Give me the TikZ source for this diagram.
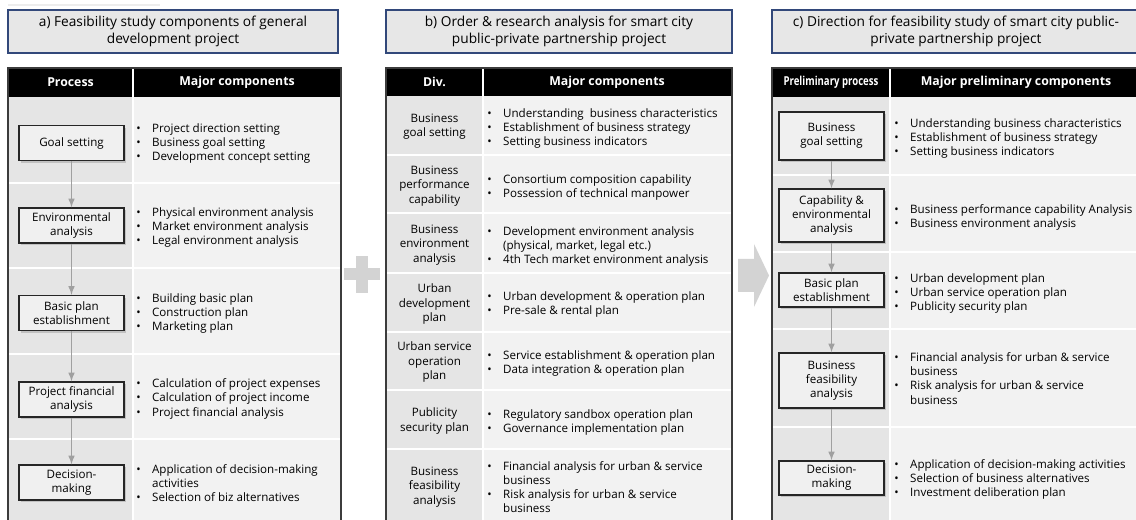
\documentclass[tikz,border=0pt]{standalone}
\usepackage{fontspec}
\setmainfont{Open Sans}
\usetikzlibrary{shadows}

\definecolor{capfill}{RGB}{231,231,231}
\definecolor{capline}{RGB}{50,72,122}
\definecolor{leftcol}{RGB}{229,229,229}
\definecolor{rightcol}{RGB}{242,242,242}
\definecolor{frame}{RGB}{60,60,60}
\definecolor{flow}{RGB}{160,160,160}
\definecolor{deco}{RGB}{211,211,211}

\newcommand{\cellfont}{\fontsize{6.6}{8.1}\selectfont}
% bullet list as a two column tabular
\newenvironment{bullets}{\begin{tabular}{@{}p{9pt}@{}l@{}}}{\end{tabular}}
\newcommand{\bu}{\textbullet &}

\tikzset{
  caption/.style={draw=capline, fill=capfill, line width=0.8pt, align=center,
    minimum height=0.86cm, inner sep=0pt, font=\fontsize{7.8}{10}\selectfont},
  head/.style={text=white, font=\bfseries\fontsize{7}{8}\selectfont},
  stage/.style={draw=black!85, fill=black!6, line width=0.8pt, align=center,
    minimum width=2.1cm, inner sep=1pt, font=\cellfont,
    drop shadow={shadow xshift=1.2pt, shadow yshift=-1.2pt, opacity=0.35}},
  cell/.style={align=center, font=\cellfont},
  items/.style={anchor=west, inner sep=0pt, yshift=-0.03cm, font=\cellfont},
  flowline/.style={draw=flow, line width=0.7pt, -latex}
}

\begin{document}
\begin{tikzpicture}[x=0.02cm, y=-0.02cm]
    \useasboundingbox (0,0) rectangle (1136,520);
    \fill[white] (0,0) rectangle (1136,520);
    \draw[black!7, line width=0.6pt] (8,5) -- (160,5);

    % captions
    \node[caption, minimum width=6.6cm] (capA) at (173,31.5)
        {a) Feasibility study components of general\\development project};
    \node[caption, minimum width=6.92cm] (capB) at (559,31.5)
        {b) Order \& research analysis for smart city\\public-private partnership project};
    \node[caption, minimum width=7.36cm] (capC) at (956,31.5)
        {c) Direction for feasibility study of smart city public-\\private partnership project};

    % table a
    \fill[leftcol] (8,68) rectangle (133,530);
    \fill[rightcol] (133,68) rectangle (341,530);
    \fill[black] (8,68) rectangle (341,97);
    \foreach \y in {183,268,354,439} \draw[white, line width=1pt] (8,\y) -- (341,\y);
    \draw[white, line width=1pt] (133,68) -- (133,530);
    \draw[frame, line width=1.2pt] (8,530) -- (8,68) -- (341,68) -- (341,530);
    \node[head] (hA1) at (70.5,82.5) {Process};
    \node[head] (hA2) at (237,82.5) {Major components};

    \node[stage, minimum height=0.7cm] (a1) at (71.5,143) {Goal setting};
    \node[stage, minimum height=0.7cm] (a2) at (71.5,225.5) {Environmental\\analysis};
    \node[stage, minimum height=0.7cm] (a3) at (71.5,313) {Basic plan\\establishment};
    \node[stage, minimum height=0.7cm] (a4) at (71.5,399.5) {Project financial\\analysis};
    \node[stage, minimum height=0.7cm] (a5) at (71.5,482.5) {Decision-\\making};
    \foreach \i/\j in {a1/a2,a2/a3,a3/a4,a4/a5} \draw[flowline] (\i) -- (\j);

    \node[items] (ia1) at (136,142) {\begin{bullets}\bu Project direction setting\\ \bu Business goal setting\\ \bu Development concept setting\end{bullets}};
    \node[items] (ia2) at (136,226) {\begin{bullets}\bu Physical environment analysis\\ \bu Market environment analysis\\ \bu Legal environment analysis\end{bullets}};
    \node[items] (ia3) at (136,312) {\begin{bullets}\bu Building basic plan\\ \bu Construction plan\\ \bu Marketing plan\end{bullets}};
    \node[items] (ia4) at (136,397.5) {\begin{bullets}\bu Calculation of project expenses\\ \bu Calculation of project income\\ \bu Project financial analysis\end{bullets}};
    \node[items] (ia5) at (136,483) {\begin{bullets}\bu Application of decision-making\\ & activities\\ \bu Selection of biz alternatives\end{bullets}};

    % plus sign
    \fill[deco] (356,256) rectangle (368,293);
    \fill[deco] (344,268) rectangle (380,280);

    % table b
    \fill[leftcol] (386,68) rectangle (483,530);
    \fill[rightcol] (483,68) rectangle (732,530);
    \fill[black] (386,68) rectangle (732,96);
    \foreach \y in {155,213,273,332,390,449} \draw[white, line width=1pt] (386,\y) -- (732,\y);
    \draw[white, line width=1pt] (483,68) -- (483,530);
    \draw[frame, line width=1.2pt] (386,530) -- (386,68) -- (732,68) -- (732,530);
    \node[head] (hB1) at (434.5,82) {Div.};
    \node[head] (hB2) at (607,82) {Major components};

    \node[cell] (b1) at (434.5,126.5) {Business\\goal setting};
    \node[cell] (b2) at (434.5,186) {Business\\performance\\capability};
    \node[cell] (b3) at (434.5,245) {Business\\environment\\analysis};
    \node[cell] (b4) at (434.5,304) {Urban\\development\\plan};
    \node[cell] (b5) at (434.5,362) {Urban service\\operation\\plan};
    \node[cell] (b6) at (434.5,421) {Publicity\\security plan};
    \node[cell] (b7) at (434.5,487) {Business\\feasibility\\analysis};

    \node[items] (ib1) at (487,127) {\begin{bullets}\bu Understanding\ \ business characteristics\\ \bu Establishment of business strategy\\ \bu Setting business indicators\end{bullets}};
    \node[items] (ib2) at (487,186.5) {\begin{bullets}\bu Consortium composition capability\\ \bu Possession of technical manpower\end{bullets}};
    \node[items] (ib3) at (487,245) {\begin{bullets}\bu Development environment analysis\\ & (physical, market, legal etc.)\\ \bu 4th Tech market environment analysis\end{bullets}};
    \node[items] (ib4) at (487,303) {\begin{bullets}\bu Urban development \& operation plan\\ \bu Pre-sale \& rental plan\end{bullets}};
    \node[items] (ib5) at (487,362) {\begin{bullets}\bu Service establishment \& operation plan\\ \bu Data integration \& operation plan\end{bullets}};
    \node[items] (ib6) at (487,421) {\begin{bullets}\bu Regulatory sandbox operation plan\\ \bu Governance implementation plan\end{bullets}};
    \node[items] (ib7) at (487,487) {\begin{bullets}\bu Financial analysis for urban \& service\\ & business\\ \bu Risk analysis for urban \& service\\ & business\end{bullets}};

    % arrow between b and c
    \fill[deco] (738,259) -- (754,259) -- (754,244) -- (769,275.5) -- (754,307)
        -- (754,292) -- (738,292) -- cycle;

    % table c
    \fill[leftcol] (772,68) rectangle (890,530);
    \fill[rightcol] (890,68) rectangle (1145,530);
    \fill[black] (772,68) rectangle (1145,97);
    \foreach \y in {175,252,329,427} \draw[white, line width=1pt] (772,\y) -- (1145,\y);
    \draw[white, line width=1pt] (890,68) -- (890,530);
    \draw[frame, line width=1.2pt] (772,530) -- (772,68) -- (1145,68);
    \node[head] (hC1) at (831,82.5) {\scalebox{0.78}[1]{Preliminary process}};
    \node[head] (hC2) at (1016,82.5) {Major preliminary components};

    \node[stage, minimum height=0.96cm] (c1) at (831.5,136) {Business\\goal setting};
    \node[stage, minimum height=1.06cm] (c2) at (831.5,215.5) {Capability \&\\environmental\\analysis};
    \node[stage, minimum height=0.68cm] (c3) at (831.5,290) {Basic plan\\establishment};
    \node[stage, minimum height=1.1cm] (c4) at (831.5,380.5) {Business\\feasibility\\analysis};
    \node[stage, minimum height=0.68cm] (c5) at (831.5,478) {Decision-\\making};
    \foreach \i/\j in {c1/c2,c2/c3,c3/c4,c4/c5} \draw[flowline] (\i) -- (\j);

    \node[items] (ic1) at (894,137) {\begin{bullets}\bu Understanding business characteristics\\ \bu Establishment of business strategy\\ \bu Setting business indicators\end{bullets}};
    \node[items] (ic2) at (894,216.5) {\begin{bullets}\bu Business performance capability Analysis\\ \bu Business environment analysis\end{bullets}};
    \node[items] (ic3) at (894,292) {\begin{bullets}\bu Urban development plan\\ \bu Urban service operation plan\\ \bu Publicity security plan\end{bullets}};
    \node[items] (ic4) at (894,378.5) {\begin{bullets}\bu Financial analysis for urban \& service\\ & business\\ \bu Risk analysis for urban \& service\\ & business\end{bullets}};
    \node[items] (ic5) at (894,478) {\begin{bullets}\bu Application of decision-making activities\\ \bu Selection of business alternatives\\ \bu Investment deliberation plan\end{bullets}};
\end{tikzpicture}
\end{document}
